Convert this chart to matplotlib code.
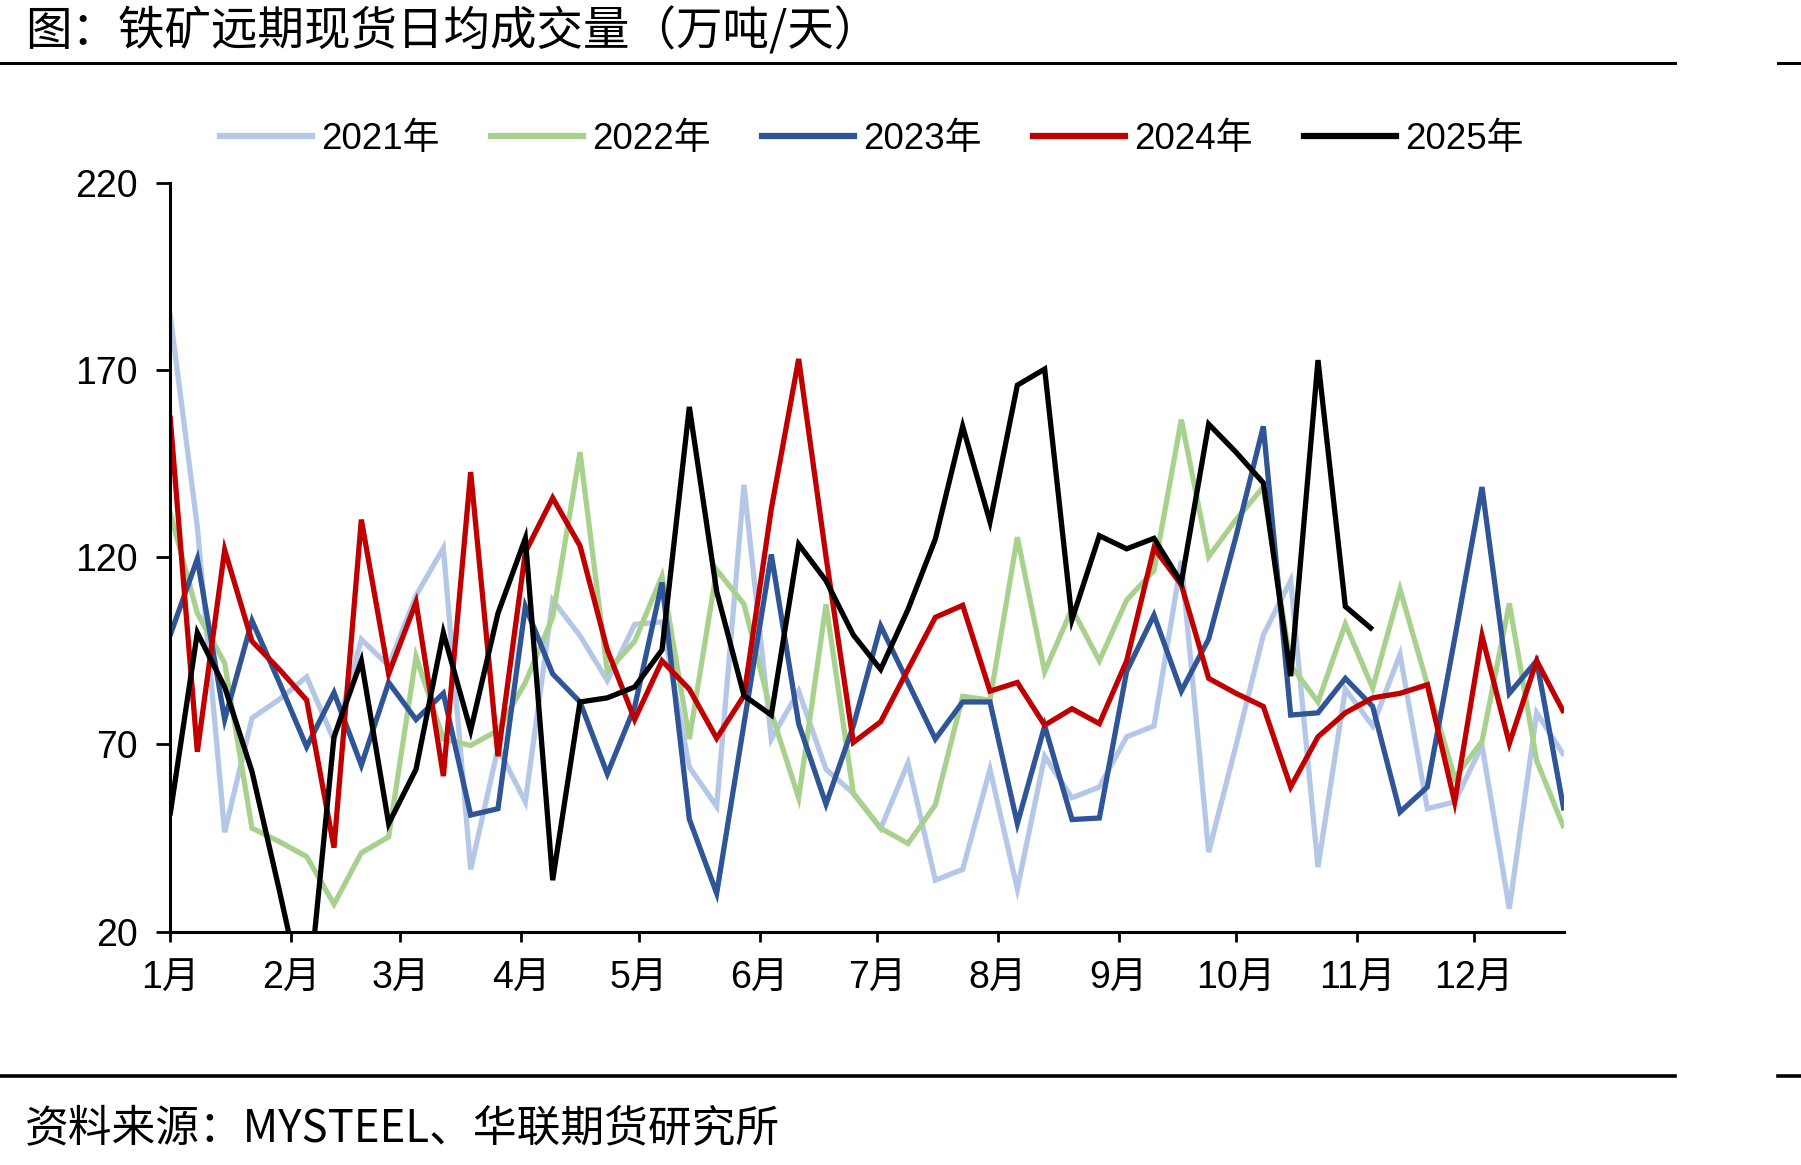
import numpy as np
import matplotlib
matplotlib.use("Agg")
import matplotlib.pyplot as plt
from matplotlib.lines import Line2D

plt.rcParams['font.family'] = ['Liberation Sans', 'Noto Sans CJK SC', 'DejaVu Sans']

# ---------------- data ----------------
series_names = ["2021年", "2022年", "2023年", "2024年", "2025年"]
series_colors = ["#B4C7E7", "#A9D18E", "#2F5597", "#C00000", "#000000"]

y2021 = [185, 128, 46.5, 77, 82, 88, 71, 98, 91, 109.7, 122.4, 36.6, 69, 54.6, 108.5, 99,
         87, 102, 102.7, 63.9, 53.4, 139.3, 71.4, 84.2, 63.3, 56.9, 47.5, 65, 33.7, 36.6,
         63.3, 31.4, 66.8, 55.7, 58.6, 72, 74.9, 119, 41.2, 69.7, 99.2, 113.7, 37.2, 84.7,
         74.9, 94, 52.8, 54.6, 69.7, 26.1, 78.4, 67]
y2022 = [132, 105, 91.7, 47.6, 44, 40, 27.3, 41, 45.3, 93.4, 71.4, 69.7, 73.7, 86.5, 103.9,
         148, 89.4, 97.5, 114.9, 71.4, 116.6, 107.4, 78.4, 55.7, 107.4, 56.9, 47.6, 43.5,
         53.8, 82.8, 81.8, 125.3, 89.4, 106.2, 92.3, 108.5, 116.4, 156.7, 120.1, 130, 138.7,
         91.1, 81.3, 102.1, 85, 111.4, 86, 61, 70.8, 107.6, 65.6, 47.6]
y2023 = [99, 119.5, 76.6, 103, 86.5, 69.3, 83.8, 64.4, 86.5, 76.6, 83.6, 51.1, 52.8, 106.8,
         88.8, 81.3, 62.1, 80, 113.2, 50, 30.2, 75.5, 120.7, 75.5, 54, 74.9, 101.6, 86.5,
         71.4, 81.3, 81.3, 48.8, 74.9, 49.9, 50.3, 89.5, 104.5, 84.2, 98.1, 125.5, 154.9,
         77.8, 78.4, 87.6, 80.1, 51.9, 58.6, 98.2, 138.7, 83.6, 92.3, 52.3]
y2024 = [157.8, 68, 121.9, 97.5, 90, 81.8, 42.4, 130, 88.8, 107.9, 61.5, 142.7, 66.8, 121.3,
         135.8, 123, 95.2, 76.6, 92.3, 84.7, 71.6, 83, 132.9, 172.9, 120.1, 70.5, 76, 90,
         103.9, 107.1, 84.2, 86.5, 75.1, 79.5, 75.5, 92.3, 122.4, 112.6, 87.6, 83.6, 80.1,
         58.6, 72, 78.4, 82.4, 83.6, 85.9, 54.6, 99, 70.2, 92.3, 78.4]
y2025 = [51, 99.8, 85.3, 62.7, 31, -2, 72, 92.3, 48.8, 63.3, 99.8, 73.7, 105, 125, 33.7,
         81.3, 82.4, 85.3, 95.2, 160.1, 110.8, 83, 77.8, 123.4, 113.7, 99.2, 90, 106, 124.8,
         154.9, 129.4, 165.9, 170.2, 103.3, 125.7, 122.2, 125, 113.2, 155.5, 148, 139.8,
         88.2, 172.6, 106.8, 100.6]

month_labels = ["1月", "2月", "3月", "4月", "5月", "6月", "7月", "8月", "9月", "10月", "11月", "12月"]
month_start_day = [0, 31, 59, 90, 120, 151, 181, 212, 243, 273, 304, 334]
y_ticks = [20, 70, 120, 170, 220]

title = "图：铁矿远期现货日均成交量（万吨/天）"
source = "资料来源：MYSTEEL、华联期货研究所"

# ---------------- figure ----------------
W, H = 1801, 1165
fig = plt.figure(figsize=(W / 100, H / 100), dpi=100)
ax = fig.add_axes([170 / W, 1 - 931.5 / H, (1564 - 170) / W, (931.5 - 182.6) / H])

all_series = [y2021, y2022, y2023, y2024, y2025]
for vals, name, col in zip(all_series, series_names, series_colors):
    days = np.arange(len(vals)) * 7
    ax.plot(days, vals, color=col, lw=3.8, label=name, solid_joinstyle='miter',
            solid_capstyle='butt')

ax.set_xlim(0, 51 * 7)
ax.set_ylim(20, 220)
ax.set_yticks(y_ticks)
ax.set_xticks(month_start_day)
ax.set_xticklabels(month_labels)

for s in ["top", "right"]:
    ax.spines[s].set_visible(False)
for s in ["left", "bottom"]:
    ax.spines[s].set_linewidth(2.2)
    ax.spines[s].set_color("black")

ax.tick_params(axis='y', direction='out', length=10, width=2, labelsize=27, pad=13)
ax.tick_params(axis='x', direction='out', length=7, width=2, labelsize=27, pad=14)

# legend
handles = [Line2D([0], [0], color=c, lw=4.5) for c in series_colors]
fig.legend(handles, series_names, loc='center', bbox_to_anchor=(0.484, 1 - 139 / H),
           ncol=5, frameon=False, fontsize=26.5, handlelength=2.5, handletextpad=0.25,
           columnspacing=1.4)

# title, separators, footer
fig.text(25 / W, 1 - 32 / H, title, fontsize=33.5, va='center', ha='left',
         family=['Noto Sans CJK SC', 'DejaVu Sans'])
for yy, lw in [(63, 2.2), (1076, 2.6)]:
    fig.add_artist(Line2D([0, 1675 / W], [1 - yy / H, 1 - yy / H], color='black', lw=lw,
                          transform=fig.transFigure))
    fig.add_artist(Line2D([1778 / W, 1], [1 - yy / H, 1 - yy / H], color='black', lw=lw,
                          transform=fig.transFigure))
fig.text(25 / W, 1 - 1129 / H, source, fontsize=31.5, va='center', ha='left',
         family=['Noto Sans CJK SC', 'DejaVu Sans'])

fig.savefig("out.png", dpi=100)
